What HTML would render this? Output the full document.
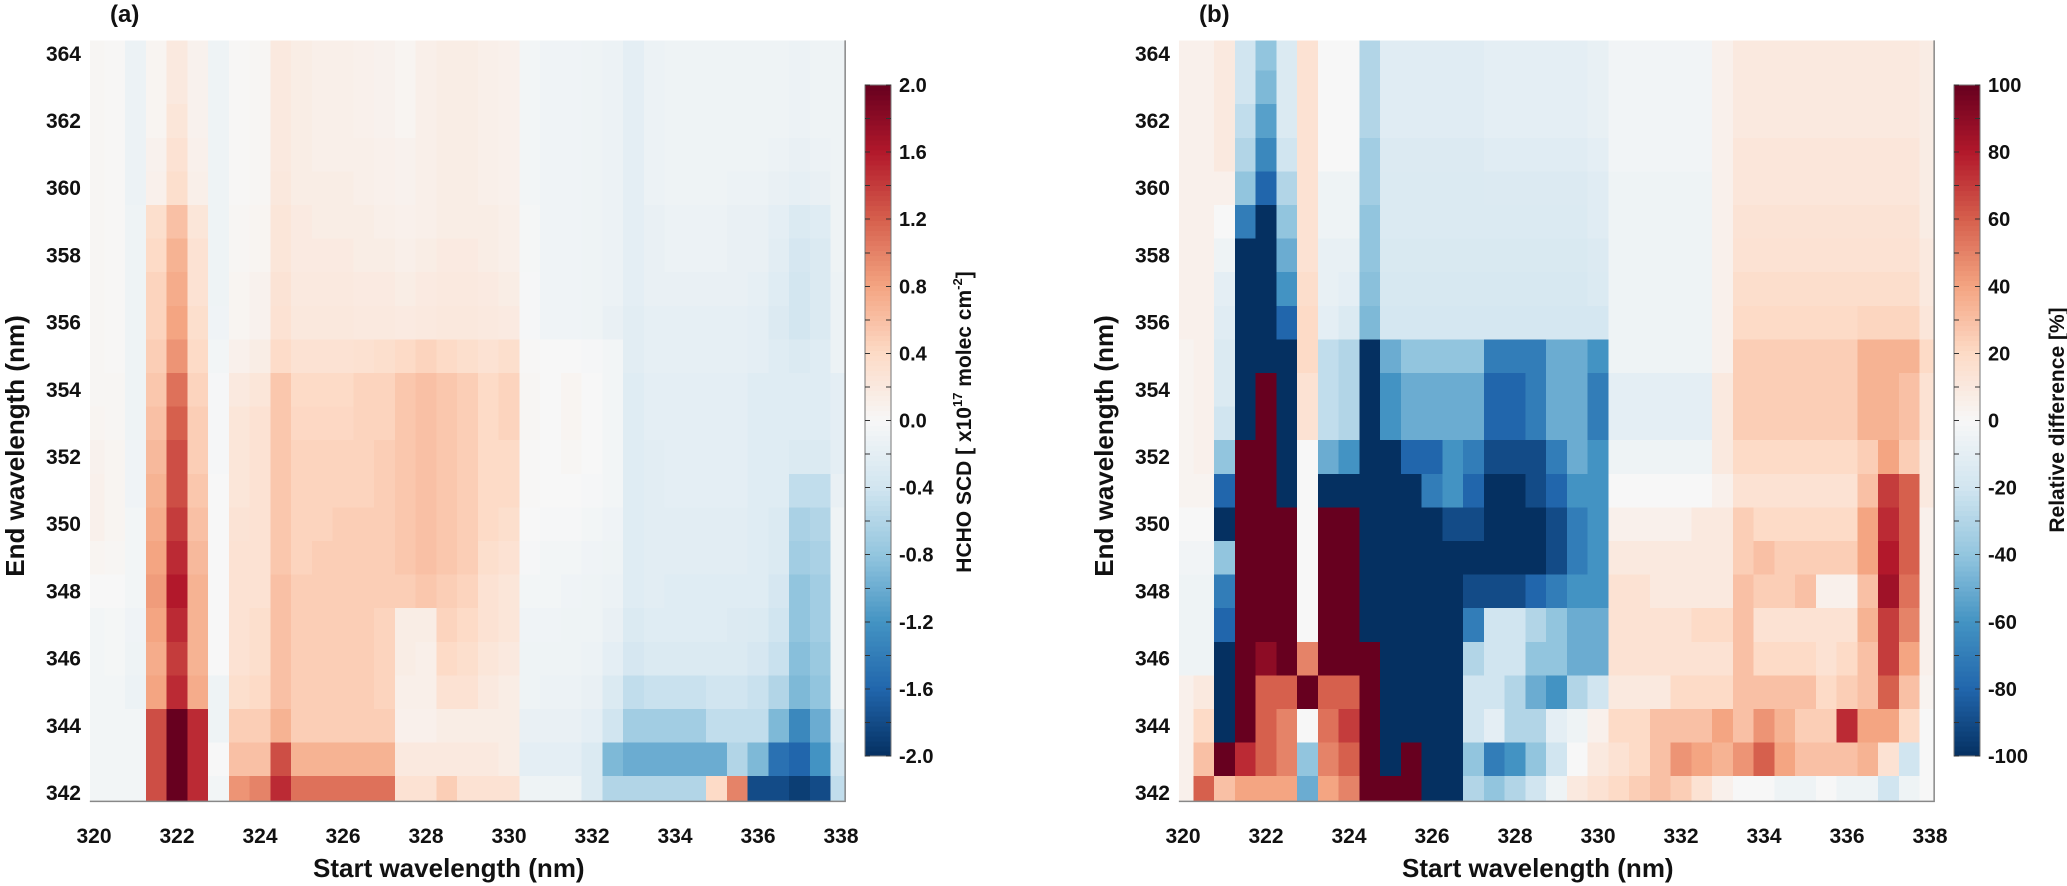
<!DOCTYPE html>
<html><head><meta charset="utf-8"><style>
html,body{margin:0;padding:0;background:#fff;}
svg{display:block;font-family:"Liberation Sans",Arial,sans-serif;font-weight:bold;}
</style></head><body>
<svg id="chart" width="2067" height="886" viewBox="0 0 2067 886" xmlns="http://www.w3.org/2000/svg">
<g id="pa"></g>
<g id="pb"></g>
</svg>
<script>
// ---- data ----
const startWl = [320,320.5,321,321.5,322,322.5,323,323.5,324,324.5,325,325.5,326,326.5,327,327.5,328,328.5,329,329.5,330,330.5,331,331.5,332,332.5,333,333.5,334,334.5,335,335.5,336,336.5,337,337.5,338];
const endWl = [364,363,362,361,360,359,358,357,356,355,354,353,352,351,350,349,348,347,346,345,344,343,342];
const xTicks = [320,322,324,326,328,330,332,334,336,338];
const yTicks = [342,344,346,348,350,352,354,356,358,360,362,364];
const cbTicksA = [-2.0,-1.6,-1.2,-0.8,-0.4,0.0,0.4,0.8,1.2,1.6,2.0];
const cbTicksB = [-100,-80,-60,-40,-20,0,20,40,60,80,100];
const scdA = [
[0.03,0.02,-0.12,0.05,0.2,0.08,-0.1,0.02,0.03,0.2,0.15,0.12,0.12,0.1,0.08,0.05,0.12,0.15,0.15,0.12,0.1,-0.05,-0.08,-0.08,-0.1,-0.12,-0.2,-0.12,-0.1,-0.1,-0.1,-0.1,-0.1,-0.1,-0.12,-0.1,-0.1],
[0.03,0.02,-0.12,0.05,0.2,0.08,-0.1,0.02,0.03,0.2,0.15,0.12,0.12,0.1,0.08,0.05,0.12,0.15,0.15,0.12,0.1,-0.05,-0.08,-0.08,-0.1,-0.12,-0.2,-0.12,-0.1,-0.1,-0.1,-0.1,-0.1,-0.1,-0.12,-0.1,-0.1],
[0.03,0.02,-0.12,0.05,0.25,0.08,-0.1,0.02,0.03,0.2,0.15,0.12,0.12,0.1,0.08,0.05,0.12,0.15,0.15,0.12,0.1,-0.05,-0.08,-0.08,-0.1,-0.12,-0.2,-0.12,-0.1,-0.1,-0.1,-0.1,-0.1,-0.1,-0.12,-0.1,-0.1],
[0.03,0.02,-0.12,0.08,0.3,0.1,-0.1,0.02,0.03,0.2,0.15,0.12,0.12,0.12,0.1,0.08,0.12,0.15,0.15,0.12,0.1,-0.05,-0.08,-0.08,-0.1,-0.12,-0.2,-0.12,-0.1,-0.1,-0.1,-0.1,-0.1,-0.12,-0.15,-0.12,-0.1],
[0.03,0.02,-0.12,0.1,0.35,0.12,-0.1,0.02,0.03,0.22,0.15,0.15,0.15,0.12,0.1,0.08,0.12,0.15,0.15,0.12,0.1,-0.05,-0.08,-0.08,-0.1,-0.12,-0.2,-0.12,-0.1,-0.1,-0.1,-0.12,-0.12,-0.15,-0.18,-0.15,-0.1],
[0.03,0.02,-0.1,0.35,0.6,0.25,-0.1,0.03,0.05,0.25,0.18,0.15,0.15,0.15,0.12,0.1,0.12,0.15,0.15,0.15,0.12,-0.03,-0.08,-0.08,-0.1,-0.12,-0.2,-0.15,-0.12,-0.12,-0.12,-0.15,-0.15,-0.2,-0.3,-0.25,-0.1],
[0.03,0.02,-0.1,0.4,0.7,0.3,-0.1,0.03,0.05,0.25,0.18,0.18,0.18,0.15,0.15,0.12,0.15,0.18,0.18,0.15,0.12,-0.03,-0.08,-0.08,-0.1,-0.12,-0.2,-0.15,-0.12,-0.12,-0.12,-0.15,-0.15,-0.22,-0.35,-0.3,-0.1],
[0.03,0.02,-0.1,0.45,0.75,0.3,-0.1,0.05,0.08,0.28,0.2,0.2,0.2,0.18,0.18,0.15,0.18,0.2,0.2,0.18,0.15,-0.02,-0.08,-0.08,-0.1,-0.12,-0.2,-0.15,-0.15,-0.15,-0.15,-0.15,-0.18,-0.25,-0.38,-0.3,-0.12],
[0.03,0.02,-0.1,0.45,0.8,0.35,-0.08,0.05,0.08,0.3,0.22,0.22,0.22,0.2,0.2,0.18,0.2,0.22,0.22,0.2,0.18,-0.02,-0.08,-0.08,-0.1,-0.15,-0.22,-0.18,-0.18,-0.18,-0.18,-0.18,-0.2,-0.28,-0.38,-0.3,-0.12],
[0.03,0.02,-0.1,0.5,0.9,0.4,-0.05,0.1,0.15,0.38,0.3,0.3,0.3,0.32,0.35,0.4,0.45,0.4,0.35,0.3,0.35,0.02,0.0,0.0,-0.02,-0.05,-0.22,-0.18,-0.18,-0.18,-0.18,-0.18,-0.2,-0.25,-0.3,-0.25,-0.12],
[0.03,0.03,-0.1,0.55,1.1,0.45,-0.02,0.2,0.25,0.55,0.4,0.4,0.4,0.45,0.45,0.55,0.6,0.55,0.5,0.4,0.45,0.03,0.0,0.05,0.0,-0.05,-0.25,-0.2,-0.2,-0.2,-0.2,-0.2,-0.25,-0.25,-0.25,-0.25,-0.2],
[0.05,0.03,-0.1,0.6,1.2,0.5,-0.02,0.25,0.3,0.55,0.42,0.42,0.42,0.45,0.45,0.55,0.6,0.55,0.5,0.4,0.45,0.03,0.0,0.05,0.0,-0.05,-0.25,-0.2,-0.2,-0.2,-0.2,-0.2,-0.25,-0.25,-0.25,-0.25,-0.2],
[0.08,0.05,-0.08,0.65,1.3,0.5,-0.02,0.25,0.3,0.55,0.45,0.45,0.45,0.45,0.5,0.55,0.6,0.55,0.5,0.4,0.4,0.02,0.0,0.03,0.0,-0.05,-0.25,-0.22,-0.2,-0.2,-0.2,-0.2,-0.25,-0.25,-0.3,-0.3,-0.2],
[0.1,0.05,-0.08,0.7,1.3,0.55,0.0,0.25,0.3,0.55,0.45,0.45,0.45,0.45,0.5,0.55,0.6,0.55,0.5,0.4,0.4,0.02,0.0,0.0,-0.02,-0.05,-0.25,-0.22,-0.2,-0.2,-0.2,-0.2,-0.25,-0.25,-0.5,-0.5,-0.15],
[0.1,0.05,-0.05,0.75,1.4,0.6,0.0,0.28,0.3,0.55,0.45,0.45,0.5,0.5,0.5,0.55,0.6,0.55,0.5,0.4,0.35,0.0,-0.02,-0.02,-0.05,-0.08,-0.25,-0.22,-0.22,-0.22,-0.22,-0.22,-0.25,-0.3,-0.65,-0.6,-0.1],
[0.05,0.03,-0.05,0.8,1.5,0.65,0.0,0.3,0.3,0.55,0.45,0.5,0.5,0.5,0.5,0.55,0.6,0.55,0.5,0.35,0.3,-0.02,-0.05,-0.05,-0.08,-0.1,-0.25,-0.22,-0.22,-0.22,-0.22,-0.22,-0.25,-0.3,-0.7,-0.65,-0.1],
[0.0,0.0,-0.05,0.85,1.6,0.7,0.0,0.3,0.3,0.6,0.5,0.5,0.5,0.5,0.5,0.5,0.55,0.5,0.45,0.3,0.25,-0.05,-0.05,-0.08,-0.1,-0.12,-0.25,-0.22,-0.25,-0.25,-0.25,-0.25,-0.25,-0.35,-0.8,-0.7,-0.1],
[-0.05,-0.03,-0.08,0.8,1.5,0.7,0.0,0.3,0.35,0.6,0.5,0.5,0.5,0.5,0.45,0.15,0.15,0.45,0.4,0.3,0.25,-0.08,-0.08,-0.1,-0.1,-0.15,-0.3,-0.25,-0.25,-0.25,-0.25,-0.28,-0.3,-0.4,-0.8,-0.7,-0.1],
[-0.05,-0.03,-0.1,0.75,1.4,0.7,0.0,0.3,0.35,0.6,0.5,0.5,0.5,0.5,0.45,0.15,0.12,0.4,0.35,0.25,0.2,-0.1,-0.1,-0.1,-0.12,-0.2,-0.35,-0.3,-0.3,-0.3,-0.3,-0.3,-0.35,-0.45,-0.85,-0.75,-0.1],
[-0.05,-0.05,-0.12,0.8,1.5,0.75,-0.1,0.35,0.4,0.6,0.5,0.5,0.5,0.5,0.45,0.12,0.12,0.3,0.3,0.2,0.15,-0.1,-0.12,-0.12,-0.15,-0.3,-0.5,-0.45,-0.45,-0.45,-0.4,-0.4,-0.45,-0.6,-0.9,-0.8,-0.1],
[-0.05,-0.05,-0.05,1.3,2.0,1.5,-0.1,0.5,0.5,0.7,0.5,0.5,0.5,0.5,0.5,0.1,0.1,0.15,0.15,0.15,0.15,-0.15,-0.15,-0.15,-0.2,-0.4,-0.7,-0.7,-0.7,-0.7,-0.5,-0.5,-0.5,-0.9,-1.3,-1.0,-0.3],
[-0.05,-0.05,-0.05,1.3,2.0,1.5,0.0,0.6,0.6,1.3,0.7,0.7,0.7,0.7,0.7,0.2,0.2,0.2,0.2,0.2,0.15,-0.2,-0.2,-0.2,-0.3,-0.9,-1.0,-1.0,-1.0,-1.0,-1.0,-0.6,-0.9,-1.5,-1.6,-1.2,-0.4],
[-0.05,-0.05,-0.05,1.3,2.0,1.5,-0.05,0.9,1.0,1.5,1.1,1.1,1.1,1.1,1.1,0.3,0.3,0.5,0.3,0.3,0.3,-0.1,-0.1,-0.1,-0.3,-0.6,-0.6,-0.6,-0.6,-0.6,0.4,1.0,-1.8,-1.8,-1.9,-1.8,-0.5]
];
const relDiffB = [
[5,5,10,-20,-40,-15,15,0,0,-30,-12,-12,-12,-12,-12,-10,-10,-10,-10,-10,-8,-3,-3,-3,-3,-3,5,10,10,10,10,10,10,10,10,10,8],
[5,5,10,-20,-45,-15,15,0,0,-30,-12,-12,-12,-12,-12,-10,-10,-10,-10,-10,-8,-3,-3,-3,-3,-3,5,10,10,10,10,10,10,10,10,10,8],
[5,5,10,-25,-55,-15,15,0,0,-30,-12,-12,-12,-12,-12,-10,-10,-10,-10,-10,-8,-3,-3,-3,-3,-3,5,10,10,10,10,10,10,10,10,10,8],
[5,5,10,-30,-65,-20,15,0,0,-35,-14,-14,-14,-14,-14,-12,-12,-12,-12,-12,-10,-3,-3,-3,-3,-3,5,12,12,12,12,12,12,12,12,12,8],
[5,5,5,-40,-80,-30,15,-5,-5,-35,-15,-15,-15,-15,-15,-14,-14,-14,-14,-14,-12,-5,-5,-5,-5,-5,5,12,12,12,12,12,12,12,12,12,8],
[5,5,0,-70,-100,-40,15,-5,-5,-40,-15,-15,-15,-15,-15,-15,-15,-15,-15,-15,-12,-5,-5,-5,-5,-5,5,14,14,14,14,14,14,14,14,14,8],
[5,5,-5,-100,-100,-50,15,-8,-8,-40,-16,-16,-16,-16,-16,-16,-16,-16,-16,-16,-14,-5,-5,-5,-5,-5,5,15,15,15,15,15,15,15,15,15,10],
[5,5,-10,-100,-100,-60,18,-8,-10,-42,-17,-17,-17,-17,-17,-17,-17,-17,-17,-17,-15,-5,-5,-5,-5,-5,5,18,18,18,18,18,18,18,18,18,10],
[5,5,-12,-100,-100,-80,20,-10,-15,-45,-18,-18,-18,-18,-18,-18,-18,-18,-18,-18,-18,-5,-5,-5,-5,-5,5,20,20,20,20,20,20,22,22,22,12],
[3,5,-15,-100,-100,-100,20,-25,-30,-100,-50,-40,-40,-40,-40,-70,-70,-70,-50,-50,-60,-5,-5,-5,-5,-5,5,25,25,25,25,25,25,35,35,35,20],
[3,5,-15,-100,100,-100,15,-25,-30,-100,-60,-50,-50,-50,-50,-80,-80,-70,-50,-50,-70,-10,-10,-10,-10,-10,10,25,25,25,25,25,25,35,35,30,15],
[3,5,-20,-100,100,-100,15,-25,-30,-100,-60,-50,-50,-50,-50,-80,-80,-70,-50,-50,-70,-10,-10,-10,-10,-10,10,25,25,25,25,25,25,35,35,30,15],
[3,5,-40,100,100,-100,0,-50,-60,-100,-100,-80,-80,-60,-70,-90,-90,-90,-70,-50,-60,-5,-5,-5,-5,-5,10,20,20,20,20,20,20,25,40,25,10],
[3,3,-80,100,100,-100,0,-100,-100,-100,-100,-100,-70,-60,-80,-100,-100,-90,-80,-60,-60,0,0,0,0,0,5,15,15,15,15,15,15,30,70,60,10],
[0,0,-100,100,100,100,0,100,100,-100,-100,-100,-100,-90,-90,-100,-100,-100,-90,-70,-60,5,5,5,5,10,10,25,20,20,20,20,20,40,75,60,5],
[-3,-3,-40,100,100,100,0,100,100,-100,-100,-100,-100,-100,-100,-100,-100,-100,-90,-70,-60,10,10,10,10,10,10,25,30,25,25,25,25,40,80,60,5],
[-5,-5,-70,100,100,100,0,100,100,-100,-100,-100,-100,-100,-90,-90,-90,-80,-70,-60,-60,15,15,10,10,10,10,30,25,25,30,5,5,30,85,55,5],
[-5,-5,-80,100,100,100,0,100,100,-100,-100,-100,-100,-100,-70,-20,-20,-30,-40,-50,-50,15,15,15,15,20,20,30,15,15,15,15,15,35,70,50,5],
[-5,-5,-100,100,90,100,50,100,100,100,-100,-100,-100,-100,-30,-20,-20,-40,-40,-50,-50,15,15,15,15,15,15,30,20,20,20,15,20,30,70,40,5],
[5,10,-100,100,60,60,100,60,60,100,-100,-100,-100,-100,-20,-20,-30,-50,-60,-30,-20,10,10,10,20,20,20,30,30,30,30,20,25,30,60,30,3],
[5,20,-100,100,60,50,0,55,70,100,-100,-100,-100,-100,-20,-10,-30,-30,-10,-5,5,20,20,30,30,30,40,30,45,35,25,25,75,40,40,20,0],
[5,30,100,75,60,50,-40,50,60,100,-100,100,-100,-100,-40,-70,-60,-40,-20,0,10,15,20,30,45,40,35,45,60,40,30,30,30,35,15,-20,0],
[5,60,30,40,40,40,-50,40,50,100,100,100,-100,-100,-30,-40,-30,-20,-5,10,15,20,25,30,25,15,5,0,0,-5,-5,0,-5,-5,-20,-5,0]
];

// ---- helpers ----
const NS = "http://www.w3.org/2000/svg";
const STOPS = ["#053061","#2166ac","#4393c3","#92c5de","#d1e5f0","#f7f7f7","#fddbc7","#f4a582","#d6604d","#b2182b","#67001f"];
function hex(h){return [parseInt(h.substr(1,2),16),parseInt(h.substr(3,2),16),parseInt(h.substr(5,2),16)];}
function cmap(t){ // t in [-1,1]
  t = Math.max(-1, Math.min(1, t));
  const p = (t+1)/2*(STOPS.length-1);
  const i = Math.min(STOPS.length-2, Math.floor(p));
  const f = p - i;
  const a = hex(STOPS[i]), b = hex(STOPS[i+1]);
  return "rgb("+a.map((v,k)=>Math.round(v+(b[k]-v)*f)).join(",")+")";
}
function mk(parent, tag, attrs, text){
  const e = document.createElementNS(NS, tag);
  for (const k in attrs) e.setAttribute(k, attrs[k]);
  if (text !== undefined) e.textContent = text;
  parent.appendChild(e);
  return e;
}
const X0 = 94, PXNM = 41.5, Y0 = 793, PYNM = 33.6;
const XMIN = 319.9, XMAX = 338.1, YMIN = 341.75, YMAX = 364.4;

function drawPanel(g, off, values, vmax, label, cbTicks, cbDec, cbTitleBuilder, cbTitleX){
  const xs = wl => off + X0 + (wl-320)*PXNM;
  const ys = wl => Y0 - (wl-342)*PYNM;
  const heat = mk(g, "g", {"shape-rendering":"crispEdges"});
  
  
  endWl.forEach((ew, r) => {
    startWl.forEach((sw, c) => {
      const x1 = xs(Math.max(XMIN, sw-0.25)), x2 = xs(Math.min(XMAX, sw+0.25));
      const y1 = ys(Math.min(YMAX, ew+0.5)), y2 = ys(Math.max(YMIN, ew-0.5));
      const rc = mk(heat, "rect", {x:x1.toFixed(2), y:y1.toFixed(2), width:(x2-x1+0.6).toFixed(2), height:(y2-y1+0.6).toFixed(2), fill:cmap(values[r][c]/vmax)});
      
      
    });
  });
  // axes frame lines
  const ax = mk(g, "path", {d:`M${xs(XMIN)},${ys(YMIN)} H${xs(XMAX)} V${ys(YMAX)}`, stroke:"#888", "stroke-width":1.5, fill:"none"});
  
  
  // x ticks
  xTicks.forEach(t => {
    const tl = mk(g, "text", {x:xs(t), y:843, "font-size":21, "text-anchor":"middle", fill:"#111"}, String(t));
    
    
  });
  yTicks.forEach(t => {
    const tl = mk(g, "text", {x:off+81, y:ys(t)+7, "font-size":21, "text-anchor":"end", fill:"#111"}, String(t));
    
    
  });
  const xt = mk(g, "text", {x:off+313, y:877, "font-size":26, fill:"#111"}, "Start wavelength (nm)");
  
  
  const yt = mk(g, "text", {x:0, y:0, "font-size":26, "text-anchor":"middle", fill:"#111", transform:`translate(${off+24},446) rotate(-90)`}, "End wavelength (nm)");
  
  
  const pl = mk(g, "text", {x:off+110, y:22, "font-size":24, fill:"#111"}, label);
  
  
  // colorbar
  const cbX = off+865, cbW = 26, cbTop = 85, cbBot = 756;
  const cbs = v => cbBot - (v - (-vmax))/(2*vmax)*(cbBot-cbTop);
  const cb = mk(g, "g", {"shape-rendering":"crispEdges"});
  
  
  for (let i=0;i<134;i++){
    const t0 = -1 + 2*i/134;
    const yA = cbBot - (i+1)*(cbBot-cbTop)/134;
    mk(cb, "rect", {x:cbX, y:yA.toFixed(2), width:cbW, height:((cbBot-cbTop)/134+0.6).toFixed(2), fill:cmap(t0+1/134)});
  }
  mk(cb, "rect", {x:cbX, y:cbTop, width:cbW, height:cbBot-cbTop, fill:"none", stroke:"#777", "stroke-width":1.2});
  const step = cbTicks[1]-cbTicks[0];
  for (let v=-vmax; v<=vmax+1e-9; v+=step/2){
    const y = cbs(v);
    mk(cb, "line", {x1:cbX, x2:cbX+5, y1:y, y2:y, stroke:"#333", "stroke-width":1});
    mk(cb, "line", {x1:cbX+cbW-5, x2:cbX+cbW, y1:y, y2:y, stroke:"#333", "stroke-width":1});
  }
  cbTicks.forEach(v => {
    const tl = mk(g, "text", {x:cbX+34, y:cbs(v)+7, "font-size":20, fill:"#111"}, v.toFixed(cbDec));
    
    
  });
  cbTitleBuilder(g, cbTitleX);
}

drawPanel(document.getElementById("pa"), 0, scdA, 2.0, "(a)", cbTicksA, 1, (g, x) => {
  const t = mk(g, "text", {x:0, y:0, "font-size":21, "text-anchor":"middle", fill:"#111", transform:`translate(${x},422) rotate(-90)`});
  
  
  mk(t, "tspan", {}, "HCHO SCD [ x10");
  mk(t, "tspan", {"font-size":13, dy:-9}, "17");
  mk(t, "tspan", {dy:9}, " molec cm");
  mk(t, "tspan", {"font-size":13, dy:-9}, "-2");
  mk(t, "tspan", {dy:9}, "]");
}, 971);

drawPanel(document.getElementById("pb"), 1089, relDiffB, 100, "(b)", cbTicksB, 0, (g, x) => {
  const t = mk(g, "text", {x:0, y:0, "font-size":21, "text-anchor":"middle", fill:"#111", transform:`translate(${x},420) rotate(-90)`}, "Relative difference [%]");
  
  
}, 2064);
</script>
</body></html>
